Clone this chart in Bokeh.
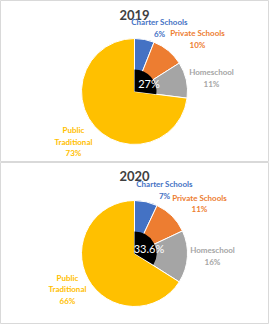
import math
from bokeh.plotting import figure
from bokeh.layouts import column
from bokeh.models import Range1d, ColumnDataSource
from bokeh.core.properties import value
from bokeh.embed import file_html
from bokeh.resources import INLINE

years = ["2019", "2020"]
categories = ["Charter Schools", "Private Schools", "Homeschool", "Public Traditional"]
label_names = ["Charter Schools", "Private Schools", "Homeschool", "Public\nTraditional"]
values_2019 = [6, 10, 11, 73]
values_2020 = [7, 11, 16, 66]
non_traditional = [27, 33.6]
colors = ["#4472C4", "#ED7D31", "#A5A5A5", "#FFC000"]

W, H = 269, 162
CX, CY, R, R_IN = 134, 71, 53, 22

# label positions (layout), per panel, in pixels from panel top-left
label_pos = [
    [(159, 27.5), (197, 38.5), (211, 77.5), (73, 141)],
    [(164, 27.5), (199, 41), (212, 93.5), (67, 126.5)],
]
title_pos = [(134, 14), (134, 13)]
center_txt_pos = [(148.5, 83), (148.5, 86)]

FONT = "Lato"

def make_panel(i, vals):
    p = figure(width=W, height=H, output_backend="svg", toolbar_location=None,
               x_range=Range1d(0, W), y_range=Range1d(0, H), min_border=0)
    p.axis.visible = False
    p.grid.visible = False
    p.outline_line_color = "#d9d9d9"
    p.outline_line_width = 1
    p.background_fill_color = "white"

    total = float(sum(vals))
    starts, ends = [], []
    cum = 0.0
    for v in vals:
        starts.append(math.pi / 2 - 2 * math.pi * cum / total)
        cum += v
        ends.append(math.pi / 2 - 2 * math.pi * cum / total)
    src = ColumnDataSource(dict(start=starts, end=ends, color=colors,
                                x=[CX] * len(vals), y=[CY] * len(vals)))
    p.wedge(x="x", y="y", radius=R, radius_units="screen", start_angle="start",
            end_angle="end", direction="clock", fill_color="color",
            line_color="white", line_width=1, source=src)

    nt = non_traditional[i]
    p.wedge(x=CX, y=CY, radius=R_IN, radius_units="screen",
            start_angle=math.pi / 2, end_angle=math.pi / 2 - 2 * math.pi * nt / 100.0,
            direction="clock", fill_color="black", line_color=None)

    tx, ty = center_txt_pos[i]
    nt_str = ("%g" % nt) + "%"
    p.text(x=[tx], y=[H - ty], text=[nt_str], text_color="white",
           text_font=value(FONT), text_font_size="11px",
           text_align="center", text_baseline="middle")

    ttx, tty = title_pos[i]
    p.text(x=[ttx], y=[H - tty], text=[years[i]], text_color="#404040",
           text_font=value(FONT), text_font_size="13px", text_font_style="bold",
           text_align="center", text_baseline="middle")

    for j, (name, v) in enumerate(zip(label_names, vals)):
        lx, ly = label_pos[i][j]
        p.text(x=[lx], y=[H - ly], text=[f"{name}\n{v}%"], text_color=colors[j],
               text_font=value(FONT), text_font_size="8px", text_font_style="bold",
               text_align="center", text_baseline="middle", text_line_height=1.15)
    return p

p1 = make_panel(0, values_2019)
p2 = make_panel(1, values_2020)
layout = column(p1, p2, spacing=0)
open("out.html", "w").write(file_html(layout, INLINE))
